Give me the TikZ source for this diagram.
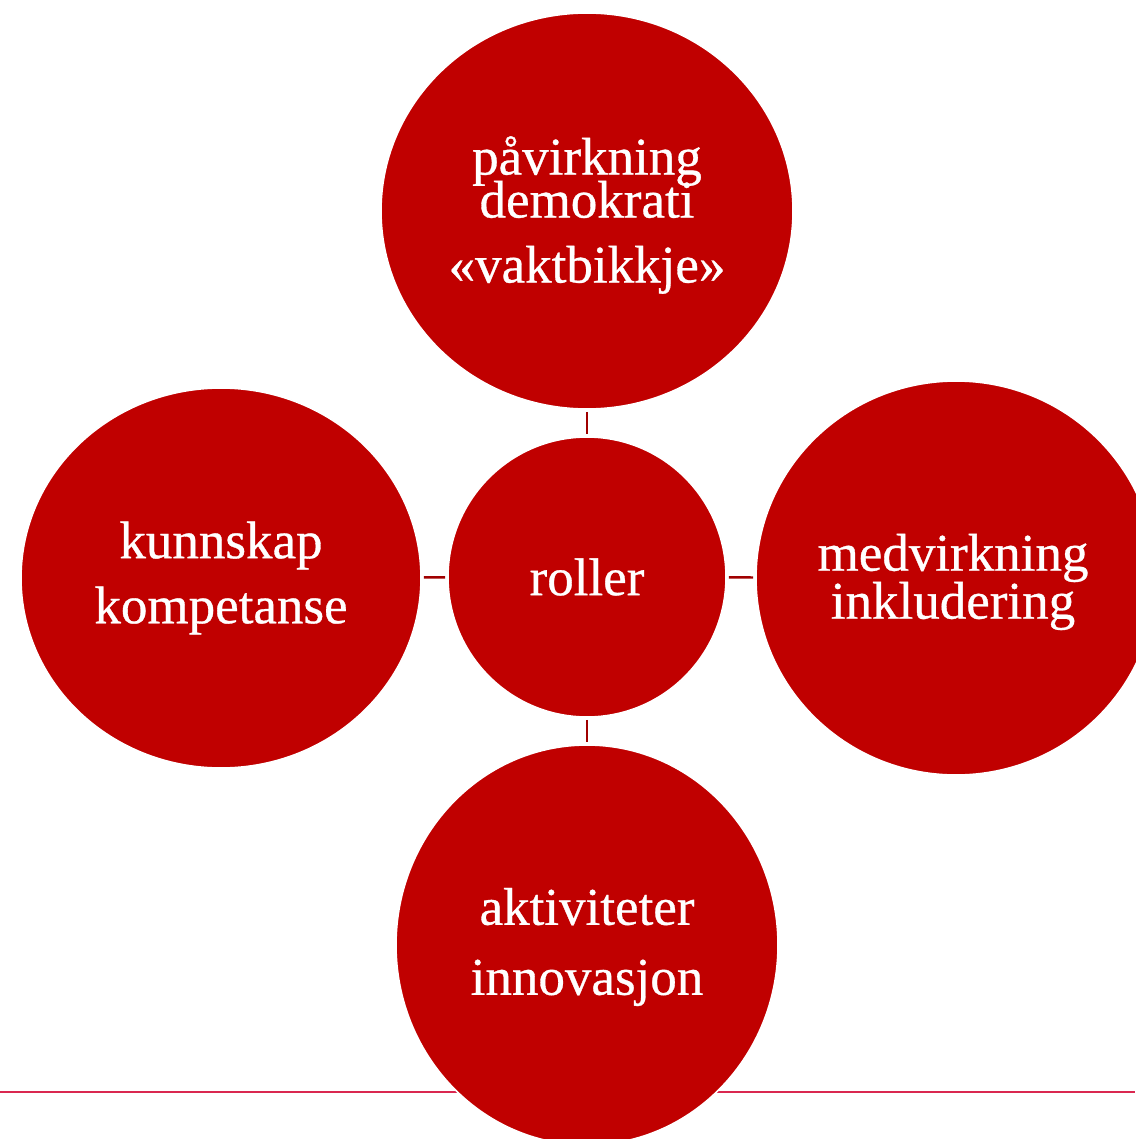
\documentclass[tikz,border=0pt]{standalone}
\usepackage{fontspec}
\setmainfont{Liberation Serif}[FakeBold=0.6]
\usetikzlibrary{shapes.geometric}
\definecolor{circred}{RGB}{192,0,0}
\definecolor{linkred}{RGB}{160,0,0}
\definecolor{rulered}{RGB}{218,40,80}
\newcommand{\bubblefont}[1]{\fontsize{26.5pt}{#1}\selectfont\lineskiplimit=-100pt\lineskip=0pt}
\tikzset{
  bubble/.style={ellipse, fill=circred, draw=white, line width=0.8pt, inner sep=0pt},
  btext/.style={text=white, align=center, inner sep=0pt, label distance=0pt},
  link/.style={draw=linkred, line width=1.2pt, shorten <=1pt, shorten >=1pt},
}
\begin{document}
\begin{tikzpicture}[x=0.5pt,y=-0.5pt]
\useasboundingbox (0,0) rectangle (1135,1139);
\coordinate (rl) at (0,1092);
\coordinate (rr) at (1135,1092);
\draw[rulered, line width=1.4pt] (rl) -- (rr);
\node[bubble, minimum width=206pt, minimum height=198pt,
  label={[btext, font=\bubblefont{21.5pt}, yshift=-2pt]center:påvirkning\\ demokrati\\[11pt] «vaktbikkje»}] (top) at (587,211) {};
\node[bubble, minimum width=200pt, minimum height=190pt,
  label={[btext, font=\bubblefont{32.5pt}]center:kunnskap\\ kompetanse}] (left) at (221,578) {};
\node[bubble, minimum width=139pt, minimum height=140pt,
  label={[btext, font=\bubblefont{32.5pt}]center:roller}] (mid) at (587,577) {};
\node[bubble, minimum width=200pt, minimum height=197pt,
  label={[btext, font=\bubblefont{24pt}, xshift=-1.5pt, yshift=-2pt]center:medvirkning\\ inkludering}] (right) at (956,578) {};
\node[bubble, minimum width=191pt, minimum height=200pt,
  label={[btext, font=\bubblefont{35pt}, yshift=-1pt]center:aktiviteter\\ innovasjon}] (bottom) at (587,945) {};
\draw[link] (top) -- (mid);
\draw[link] (left) -- (mid);
\draw[link] (mid) -- (right);
\draw[link] (mid) -- (bottom);
\end{tikzpicture}
\end{document}
